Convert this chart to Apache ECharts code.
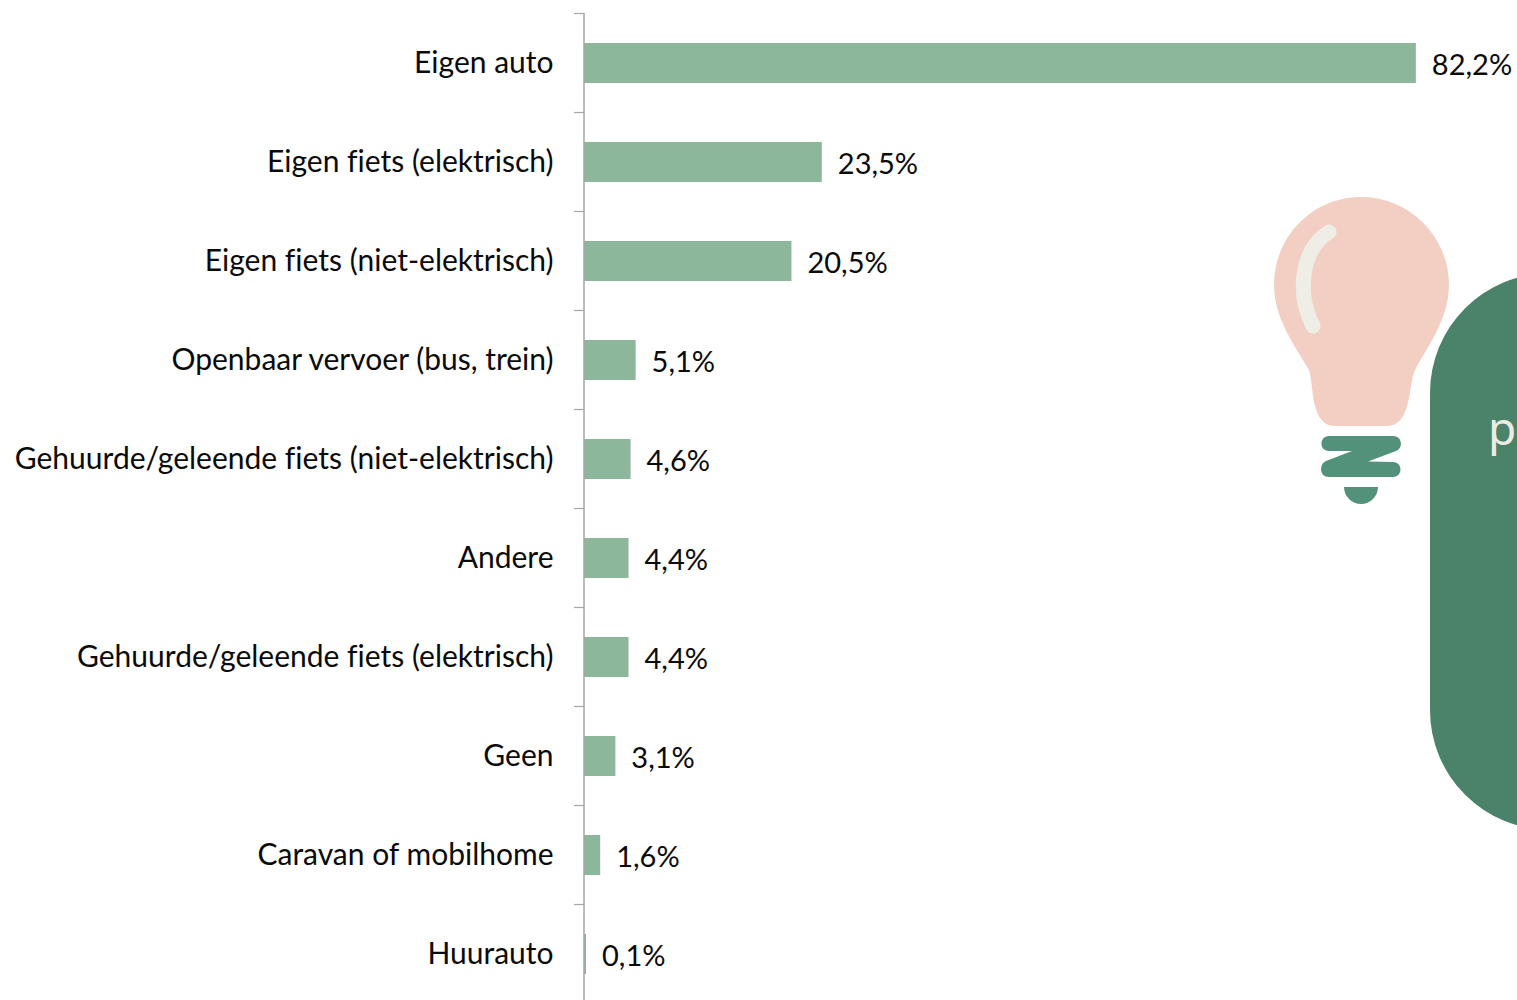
<!DOCTYPE html>
<html>
<head>
<meta charset="utf-8">
<style>html,body{margin:0;padding:0;background:#fff;overflow:hidden}#c{width:1517px;height:1000px}#c text{font-variant-ligatures:none}</style>
<script src="https://cdn.jsdelivr.net/npm/echarts@6/dist/echarts.min.js"></script>
</head>
<body>
<div id="c"></div>
<script>
const categories = ["Eigen auto","Eigen fiets (elektrisch)","Eigen fiets (niet-elektrisch)","Openbaar vervoer (bus, trein)","Gehuurde/geleende fiets (niet-elektrisch)","Andere","Gehuurde/geleende fiets (elektrisch)","Geen","Caravan of mobilhome","Huurauto"];
const values = [82.2,23.5,20.5,5.1,4.6,4.4,4.4,3.1,1.6,0.1];
const FONT = 'Lato, Carlito, Calibri, sans-serif';
const chart = echarts.init(document.getElementById('c'), null, {renderer:'svg'});
function pathEl(d, style){
  return {type:'path', shape:{pathData:d}, style:style, silent:true};
}
const decor = [
  pathEl('M1361 197 C1409 197 1449 236 1449 285 C1449 320 1425 350 1415 370 C1408 385 1412 426 1387 426 L1335 426 C1310 426 1314 385 1309 370 C1298 350 1274 320 1274 285 C1274 236 1313 197 1361 197 Z',{fill:'#F3CEC2'}),
  pathEl('M1329 232 C1300 250 1297 295 1313 326',{fill:'none',stroke:'#EEEEE6',lineWidth:15,lineCap:'round'}),
  pathEl('M1329 436 L1393 436 C1403 436 1403 449 1396 451 L1368 461.5 L1393 462 C1403 462 1403 477 1393 477 L1329 477 C1319 477 1319 464 1326 461 L1352 451 L1329 451 C1319 451 1319 436 1329 436 Z',{fill:'#52917A'}),
  pathEl('M1344 487 L1378 487 A17 17 0 0 1 1344 487 Z',{fill:'#52917A'})
];
chart.setOption({
  animation:false,
  backgroundColor:'#fff',
  grid:{left:584, top:13.5, right:-79, bottom:-3.5, containLabel:false, outerBoundsMode:'none'},
  xAxis:{type:'value', min:0, max:100, show:false},
  yAxis:{type:'category', inverse:true, data:categories, z:3,
    axisLine:{show:true, lineStyle:{color:'#A6A6A6', width:1.5}},
    axisTick:{show:true, length:10, lineStyle:{color:'#A6A6A6', width:1.2}},
    axisLabel:{margin:30.5, color:'#0a0a0a', fontFamily:FONT, fontSize:30, interval:0, verticalAlign:'bottom', lineHeight:4},
    splitLine:{show:false}},
  series:[{type:'bar', data:values, barWidth:40, barMinHeight:2, clip:false,
    itemStyle:{color:'#8DB79B'},
    label:{show:true, position:'right', distance:16, color:'#0a0a0a', fontFamily:FONT, fontSize:29,
      formatter:p=>p.value.toFixed(1).replace('.',',')+'%'}},
    {type:'custom', coordinateSystem:'none', data:[[0]], silent:true, z:5,
     renderItem:()=>({type:'group', children:decor})}],
  graphic:{elements:[
    {type:'rect', shape:{x:1430,y:273,width:240,height:557,r:120}, style:{fill:'#4A826A'}, silent:true},
    {type:'text', x:1488, y:404, style:{text:'p', fill:'#EEEBE4', font:'400 46px "Noto Sans", sans-serif'}, silent:true}
  ]}
});
</script>
</body>
</html>
